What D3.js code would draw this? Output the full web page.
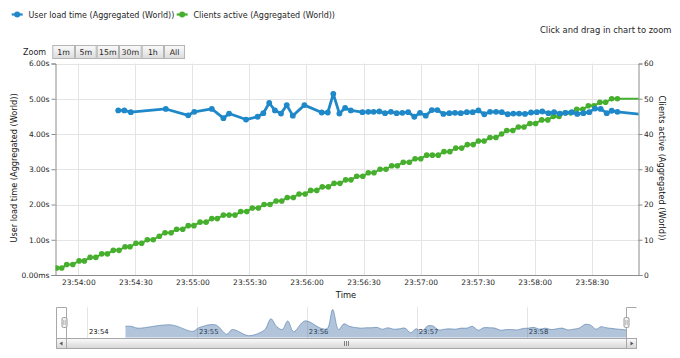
<!DOCTYPE html>
<html><head><meta charset="utf-8">
<script src="https://cdn.jsdelivr.net/npm/d3@7"></script>
<style>
body{margin:0;background:#fff}
svg{display:block;font-family:"DejaVu Sans",Verdana,sans-serif}
</style>
</head><body>
<svg id="c" width="680" height="358"></svg>
<script>
// ---------------- DATA ----------------
const seriesNames = ["User load time (Aggregated (World))", "Clients active (Aggregated (World))"];
const xAxisTitle = "Time";
const hint = "Click and drag in chart to zoom";
const zoomButtons = ["1m", "5m", "15m", "30m", "1h", "All"];

// time offsets in seconds from 23:54:00
const loadTimeOffsets = [21.0, 24.2, 27.6, 46.0, 57.8, 61.0, 70.2, 76.3, 79.3, 88.2, 94.3, 97.3, 100.4, 103.4, 106.6, 109.6, 112.8, 118.9, 128.0, 131.2, 134.1, 137.3, 140.3, 143.3, 149.4, 152.5, 155.3, 158.3, 161.3, 164.4, 167.4, 170.4, 173.5, 176.7, 179.7, 182.7, 185.9, 188.8, 192.0, 195.1, 198.1, 201.1, 204.3, 207.4, 210.4, 213.5, 216.5, 219.7, 222.7, 225.8, 228.8, 231.8, 234.9, 238.1, 241.1, 244.0, 247.2, 250.2, 253.3, 256.3, 259.5, 262.4, 265.6, 268.7, 271.7, 274.7, 277.9, 280.5, 283.5, 296.0];
const loadTimeValues = [4.67, 4.67, 4.62, 4.71, 4.53, 4.63, 4.71, 4.45, 4.58, 4.41, 4.49, 4.59, 4.88, 4.67, 4.58, 4.82, 4.52, 4.82, 4.61, 4.61, 5.14, 4.58, 4.74, 4.67, 4.62, 4.63, 4.63, 4.64, 4.59, 4.63, 4.59, 4.60, 4.62, 4.49, 4.60, 4.52, 4.68, 4.68, 4.57, 4.59, 4.60, 4.59, 4.62, 4.62, 4.67, 4.56, 4.63, 4.63, 4.62, 4.56, 4.58, 4.58, 4.57, 4.61, 4.62, 4.64, 4.59, 4.62, 4.58, 4.60, 4.62, 4.57, 4.59, 4.62, 4.72, 4.71, 4.59, 4.66, 4.63, 4.56];

const clientsOffsets = [-11.4, -8.7, -6.1, -2.9, 0.4, 3.2, 6.2, 9.2, 12.3, 15.3, 18.4, 21.4, 24.6, 27.2, 30.3, 33.3, 36.3, 39.4, 42.6, 45.6, 48.8, 51.7, 54.9, 57.8, 60.8, 64.0, 67.2, 70.2, 73.1, 76.3, 79.3, 82.4, 85.4, 88.6, 91.5, 94.7, 97.7, 100.8, 104.0, 107.0, 109.9, 113.1, 116.1, 119.3, 122.2, 125.4, 128.3, 131.5, 134.5, 137.6, 140.6, 143.4, 146.4, 149.6, 152.5, 155.5, 158.7, 161.8, 164.8, 167.8, 170.9, 174.1, 177.1, 180.1, 183.2, 186.2, 189.3, 192.3, 195.4, 198.5, 201.6, 204.6, 207.7, 210.4, 213.4, 216.5, 219.6, 222.6, 225.3, 228.5, 231.4, 234.4, 237.5, 240.5, 243.7, 246.9, 249.8, 252.8, 256.0, 258.9, 262.1, 265.3, 268.2, 271.2, 274.3, 277.3, 280.5, 283.5, 296.0];
const clientsValues = [2, 2, 3, 3, 4, 4, 5, 5, 6, 6, 7, 7, 8, 8, 9, 9, 10, 10, 11, 12, 12, 13, 13, 14, 14, 15, 15, 16, 16, 17, 17, 17, 18, 18, 19, 19, 20, 20, 21, 21, 22, 22, 23, 23, 24, 24, 25, 25, 26, 26, 27, 27, 28, 28, 29, 29, 30, 30, 31, 31, 32, 32, 33, 33, 34, 34, 34, 35, 35, 36, 36, 37, 37, 38, 38, 39, 39, 40, 41, 41, 42, 42, 43, 43, 44, 44, 45, 45, 46, 46, 47, 47, 48, 48, 49, 49, 50, 50, 50];

const xTickLabels = ["23:54:00", "23:54:30", "23:55:00", "23:55:30", "23:56:00", "23:56:30", "23:57:00", "23:57:30", "23:58:00", "23:58:30"];
const leftTicks = [0, 1, 2, 3, 4, 5, 6];
const leftTickLabels = ["0.00ms", "1.00s", "2.00s", "3.00s", "4.00s", "5.00s", "6.00s"];
const rightTicks = [0, 10, 20, 30, 40, 50, 60];
const navTickLabels = ["23:54", "23:55", "23:56", "23:57", "23:58"];
const viewStartOffset = -12, viewEndOffset = 294.6;

// ---------------- SETUP ----------------
const BLUE = "#1f88c9", GREEN = "#46af2d", TXT = "#1e1e1e";
const base = new Date(2013, 0, 1, 23, 54, 0);
const at = s => new Date(base.getTime() + s * 1000);
const parseHMS = str => { const [h, m, s] = str.split(":").map(Number); return new Date(2013, 0, 1, h, m, s || 0); };

const loadData = loadTimeOffsets.map((o, i) => ({ t: at(o), v: loadTimeValues[i] }));
const clientData = clientsOffsets.map((o, i) => ({ t: at(o), v: clientsValues[i] }));

const L = 55.5, R = 638.5, T = 63.5, B = 275;
const svg = d3.select("#c");

const x = d3.scaleTime().domain([at(viewStartOffset), at(viewEndOffset)]).range([L, R]);
const yL = d3.scaleLinear().domain([0, 6]).range([B, T]);
const yR = d3.scaleLinear().domain([0, 60]).range([B, T]);

// ---------------- LEGEND ----------------
const legendX = [11.7, 176.7];
const leg = svg.append("g");
seriesNames.forEach((n, i) => {
  const c = i === 0 ? BLUE : GREEN;
  const g = leg.append("g").attr("transform", `translate(${legendX[i]},14.5)`);
  g.append("line").attr("x1", 0).attr("x2", 11).attr("stroke", c).attr("stroke-width", 2.2);
  g.append("circle").attr("cx", 5.5).attr("r", 3).attr("fill", c);
  g.append("text").attr("x", 16.8).attr("y", 3).attr("font-size", 8).attr("fill", TXT).text(n);
});

svg.append("text").attr("x", 671.5).attr("y", 33).attr("text-anchor", "end")
  .attr("font-size", 8.4).attr("fill", TXT).text(hint);

// ---------------- ZOOM BUTTONS ----------------
svg.append("text").attr("x", 23).attr("y", 55).attr("font-size", 8).attr("fill", TXT).text("Zoom");
const defs = svg.append("defs");
const bg = defs.append("linearGradient").attr("id", "btn").attr("x1", 0).attr("y1", 0).attr("x2", 0).attr("y2", 1);
bg.append("stop").attr("offset", 0).attr("stop-color", "#fafafa");
bg.append("stop").attr("offset", 1).attr("stop-color", "#dcdcdc");
const btnEdges = [52.3, 75, 96.7, 119, 141.7, 164, 185];
zoomButtons.forEach((b, i) => {
  const x0 = btnEdges[i], w = btnEdges[i + 1] - btnEdges[i];
  svg.append("rect").attr("x", x0 + 0.5).attr("y", 45.5).attr("width", w - 1).attr("height", 13)
    .attr("fill", "url(#btn)").attr("stroke", "#b5b5b5").attr("stroke-width", 1);
  svg.append("text").attr("x", x0 + w / 2).attr("y", 55.3).attr("text-anchor", "middle")
    .attr("font-size", 7.8).attr("fill", TXT).text(b);
});

// ---------------- GRID ----------------
const grid = svg.append("g").attr("stroke", "#e4e4e4").attr("stroke-width", 1);
leftTicks.filter(d => d > 0).forEach(d => {
  grid.append("line").attr("x1", L).attr("x2", R).attr("y1", Math.round(yL(d)) + 0.5).attr("y2", Math.round(yL(d)) + 0.5);
});
const xTickDates = xTickLabels.map(parseHMS);
xTickDates.forEach(d => {
  const px = Math.round(x(d)) + 0.5;
  grid.append("line").attr("x1", px).attr("x2", px).attr("y1", T).attr("y2", B);
});

// ---------------- AXES ----------------
const fmtX = d3.timeFormat("%H:%M:%S");
const gx = svg.append("g").attr("transform", `translate(0,${B})`)
  .call(d3.axisBottom(x).tickValues(xTickDates).tickFormat(fmtX).tickSize(0).tickPadding(5));
const gl = svg.append("g").attr("transform", `translate(${L},0)`)
  .call(d3.axisLeft(yL).tickValues(leftTicks).tickFormat((d, i) => leftTickLabels[i]).tickSize(4).tickPadding(2));
const gr = svg.append("g").attr("transform", `translate(${R},0)`)
  .call(d3.axisRight(yR).tickValues(rightTicks).tickSize(4).tickPadding(1.5));
[gx, gl, gr].forEach(g => {
  g.attr("font-family", null).attr("font-size", null);
  g.select(".domain").attr("stroke", "#8c8c8c");
  g.selectAll(".tick line").attr("stroke", "#8c8c8c");
  g.selectAll("text").attr("font-size", 7.5).attr("fill", "#262626");
});

svg.append("text").attr("x", 346).attr("y", 297.5).attr("text-anchor", "middle")
  .attr("font-size", 8.3).attr("fill", "#111").text(xAxisTitle);
svg.append("text").attr("transform", "translate(14,168) rotate(-90)").attr("text-anchor", "middle")
  .attr("dy", "0.35em").attr("font-size", 8.2).attr("fill", "#111").text(seriesNames[0]);
svg.append("text").attr("transform", "translate(662,168) rotate(90)").attr("text-anchor", "middle")
  .attr("dy", "0.35em").attr("font-size", 8.2).attr("fill", "#111").text(seriesNames[1]);

// ---------------- SERIES ----------------
defs.append("clipPath").attr("id", "plot").append("rect")
  .attr("x", L).attr("y", T - 5).attr("width", R - L).attr("height", B - T + 10);
const plot = svg.append("g").attr("clip-path", "url(#plot)");

const lineL = d3.line().x(d => x(d.t)).y(d => yL(d.v));
const lineR = d3.line().x(d => x(d.t)).y(d => yR(d.v));

plot.append("path").datum(clientData).attr("d", lineR).attr("fill", "none")
  .attr("stroke", GREEN).attr("stroke-width", 2).attr("stroke-linejoin", "round");
plot.append("g").selectAll("circle").data(clientData.filter(d => x(d.t) <= R)).join("circle")
  .attr("cx", d => x(d.t)).attr("cy", d => yR(d.v)).attr("r", 2.8).attr("fill", GREEN);

plot.append("path").datum(loadData).attr("d", lineL).attr("fill", "none")
  .attr("stroke", BLUE).attr("stroke-width", 2.8).attr("stroke-linejoin", "round");
plot.append("g").selectAll("circle").data(loadData.filter(d => x(d.t) <= R)).join("circle")
  .attr("cx", d => x(d.t)).attr("cy", d => yL(d.v)).attr("r", 2.9).attr("fill", BLUE);

// ---------------- NAVIGATOR ----------------
const NL = 65, NR = 626.7, NT = 307.3, NB = 337.8;
const nx = d3.scaleTime().domain(x.domain()).range([NL, NR]);
const ny = d3.scaleLinear().domain([4.35, 5.2]).range([NB, NT]);
defs.append("clipPath").attr("id", "nav").append("rect")
  .attr("x", NL).attr("y", NT - 2).attr("width", NR - NL).attr("height", NB - NT + 2);

const navTickDates = navTickLabels.map(parseHMS);
const ng = svg.append("g");
navTickDates.forEach((d, i) => {
  const px = Math.round(nx(d)) + 0.5;
  ng.append("line").attr("x1", px).attr("x2", px).attr("y1", NT).attr("y2", NB).attr("stroke", "#e4e4e4");
});
const navArea = d3.area().x(d => nx(d.t)).y0(NB).y1(d => ny(d.v)).curve(d3.curveCatmullRom.alpha(0.5));
const navLine = d3.line().x(d => nx(d.t)).y(d => ny(d.v)).curve(d3.curveCatmullRom.alpha(0.5));
const navG = svg.append("g").attr("clip-path", "url(#nav)");
navG.append("path").datum(loadData).attr("d", navArea).attr("fill", "#4572A7").attr("fill-opacity", 0.42);
navG.append("path").datum(loadData).attr("d", navLine).attr("fill", "none").attr("stroke", "#4572A7").attr("stroke-opacity", 0.55).attr("stroke-width", 1);
navTickDates.forEach((d, i) => {
  ng.append("text").attr("x", nx(d) + 2).attr("y", 334.3).attr("font-size", 6.8).attr("fill", "#111").text(navTickLabels[i]);
});

// outline
svg.append("path").attr("fill", "none").attr("stroke", "#a8a8ac").attr("stroke-width", 1)
  .attr("d", `M56.5,348 L56.5,307.5 L66.5,307.5 L66.5,338.5 L626.5,338.5 L626.5,307.5 L636.5,307.5`);

// scrollbar
const sg = defs.append("linearGradient").attr("id", "sb").attr("x1", 0).attr("y1", 0).attr("x2", 0).attr("y2", 1);
sg.append("stop").attr("offset", 0).attr("stop-color", "#fbfbfb");
sg.append("stop").attr("offset", 1).attr("stop-color", "#d6d6d6");
svg.append("rect").attr("x", 56.5).attr("y", 338.5).attr("width", 580).attr("height", 10)
  .attr("fill", "#eeeeee").attr("stroke", "#bbbbbb");
svg.append("rect").attr("x", 66.5).attr("y", 338.5).attr("width", 560).attr("height", 10)
  .attr("fill", "url(#sb)").attr("stroke", "#a8a8a8");
[[56.5, "M59.5,343.5 L62.5,341.5 L62.5,345.5 Z"], [626.5, "M633.5,343.5 L630.5,341.5 L630.5,345.5 Z"]].forEach(([bx, arrow]) => {
  svg.append("rect").attr("x", bx).attr("y", 338.5).attr("width", 10).attr("height", 10)
    .attr("fill", "url(#sb)").attr("stroke", "#a8a8a8");
  svg.append("path").attr("d", arrow).attr("fill", "#555");
});
[-2, 0, 2].forEach(o => {
  svg.append("line").attr("x1", 346.5 + o).attr("x2", 346.5 + o).attr("y1", 341).attr("y2", 346)
    .attr("stroke", "#666").attr("stroke-width", 0.8);
});

// handles
[[64.5], [626.5]].forEach(([hx]) => {
  svg.append("rect").attr("x", hx - 2.5).attr("y", 317.5).attr("width", 5).attr("height", 10)
    .attr("rx", 1.5).attr("fill", "#f2f0f0").attr("stroke", "#9a9a9a");
  svg.append("line").attr("x1", hx - 0.8).attr("x2", hx - 0.8).attr("y1", 320).attr("y2", 325).attr("stroke", "#999").attr("stroke-width", 0.6);
  svg.append("line").attr("x1", hx + 0.8).attr("x2", hx + 0.8).attr("y1", 320).attr("y2", 325).attr("stroke", "#999").attr("stroke-width", 0.6);
});
</script>
</body></html>
